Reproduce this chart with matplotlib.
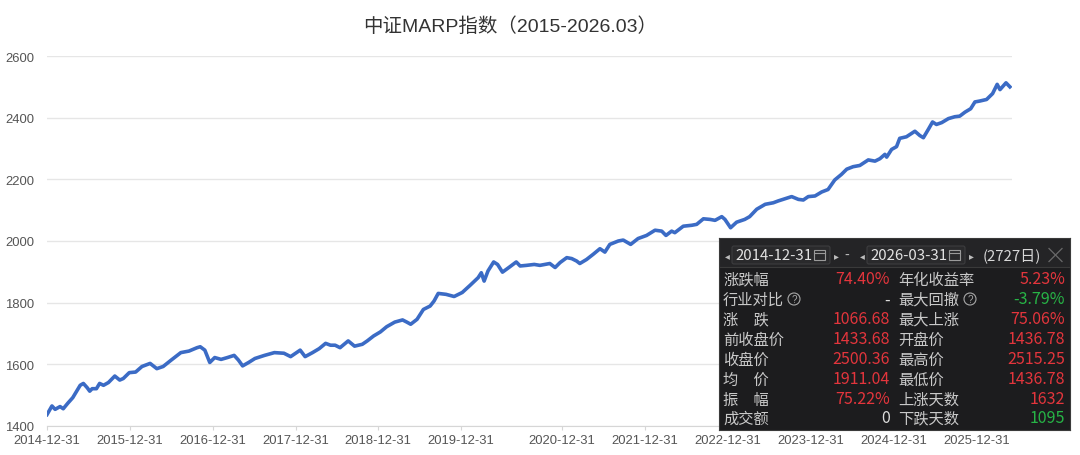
import matplotlib
matplotlib.use('Agg')
import matplotlib.pyplot as plt
from matplotlib.patches import Rectangle, FancyBboxPatch, Circle

# ---------------- data ----------------
title = "中证MARP指数（2015-2026.03）"

day_idx = [0, 14, 23, 37, 46, 59, 73, 94, 103, 114, 121, 128, 140, 149, 160, 174, 192, 206, 216, 233,
           251, 269, 292, 311, 329, 352, 379, 402, 425, 434, 447, 461, 475, 493, 511, 530, 542, 554, 571, 589,
           616, 644, 671, 690, 717, 731, 752, 771, 789, 803, 816, 830, 853, 871, 893, 907, 925, 944, 962, 985,
           1007, 1019, 1030, 1048, 1066, 1085, 1096, 1108, 1130, 1153, 1176, 1198, 1221, 1230, 1238, 1249, 1265,
           1276, 1290, 1308, 1329, 1340, 1358, 1380, 1396, 1424, 1439, 1453, 1472, 1486, 1500, 1509, 1528, 1547,
           1566, 1580, 1594, 1618, 1632, 1653, 1674, 1698, 1722, 1741, 1753, 1769, 1778, 1802, 1826, 1840, 1859,
           1878, 1892, 1911, 1920, 1936, 1953, 1976, 1990, 2010, 2034, 2057, 2071, 2090, 2109, 2128, 2142, 2156,
           2175, 2194, 2212, 2231, 2250, 2265, 2283, 2302, 2326, 2345, 2359, 2373, 2378, 2392, 2406, 2415, 2434,
           2458, 2472, 2482, 2496, 2508, 2519, 2534, 2553, 2571, 2585, 2600, 2616, 2628, 2642, 2661, 2678, 2691,
           2699, 2716, 2727]

index_values = [1437, 1465, 1454, 1463, 1456, 1474, 1492, 1532, 1538, 1524, 1513, 1521, 1521, 1538, 1532, 1541,
                1562, 1549, 1554, 1573, 1575, 1593, 1603, 1586, 1593, 1614, 1638, 1643, 1654, 1657, 1646, 1606,
                1622, 1616, 1622, 1629, 1614, 1595, 1606, 1619, 1629, 1638, 1636, 1625, 1646, 1625, 1638, 1651,
                1668, 1662, 1662, 1654, 1676, 1659, 1665, 1676, 1692, 1705, 1722, 1737, 1744, 1737, 1730, 1746,
                1778, 1789, 1805, 1830, 1827, 1820, 1833, 1856, 1881, 1897, 1870, 1903, 1932, 1924, 1899, 1914,
                1932, 1919, 1921, 1924, 1921, 1927, 1914, 1930, 1946, 1943, 1935, 1927, 1940, 1957, 1975, 1964,
                1989, 2000, 2003, 1989, 2008, 2018, 2035, 2032, 2018, 2032, 2027, 2048, 2051, 2054, 2072, 2070,
                2067, 2079, 2070, 2043, 2061, 2070, 2079, 2103, 2119, 2124, 2130, 2137, 2144, 2135, 2133, 2144,
                2146, 2159, 2167, 2198, 2216, 2233, 2241, 2245, 2263, 2259, 2267, 2281, 2272, 2297, 2306, 2333,
                2338, 2356, 2342, 2335, 2362, 2386, 2378, 2384, 2397, 2403, 2405, 2418, 2429, 2451, 2454, 2459,
                2478, 2508, 2491, 2513, 2500]

tick_idx = [0, 235, 470, 705, 937, 1172, 1458, 1693, 1928, 2164, 2399, 2634]
tick_labels = ['2014-12-31', '2015-12-31', '2016-12-31', '2017-12-31', '2018-12-31', '2019-12-31',
               '2020-12-31', '2021-12-31', '2022-12-31', '2023-12-31', '2024-12-31', '2025-12-31']
y_ticks = [1400, 1600, 1800, 2000, 2200, 2400, 2600]

start_date = '2014-12-31'
end_date = '2026-03-31'
days_text = '(2727日)'
left_labels = ['涨跌幅', '行业对比', '涨　跌', '前收盘价', '收盘价', '均　价', '振　幅', '成交额']
left_values = ['74.40%', '-', '1066.68', '1433.68', '2500.36', '1911.04', '75.22%', '0']
right_labels = ['年化收益率', '最大回撤', '最大上涨', '开盘价', '最高价', '最低价', '上涨天数', '下跌天数']
right_values = ['5.23%', '-3.79%', '75.06%', '1436.78', '2515.25', '1436.78', '1632', '1095']

# ---------------- styles ----------------
RED = '#e3353c'
GREEN = '#27b446'
NEU = '#dcdcdc'
LBL = '#c9c9c9'
left_colors = [RED, NEU, RED, RED, RED, RED, RED, NEU]
right_colors = [RED, GREEN, RED, RED, RED, RED, RED, GREEN]
help_rows_left = [1]
help_rows_right = [1]

LAT = ['Liberation Sans', 'Noto Sans CJK SC', 'DejaVu Sans']
CJK = ['Noto Sans CJK SC', 'DejaVu Sans']

W, H = 1080, 456
fig = plt.figure(figsize=(W / 100, H / 100), dpi=100)
fig.patch.set_facecolor('white')

ax = fig.add_axes([47 / W, 29 / H, (1012 - 47) / W, 370 / H])
ax.plot(day_idx, index_values, color='#3b6bc5', lw=2.6, solid_joinstyle='round', zorder=3)
ax.set_xlim(0, 2733)
ax.set_ylim(1400, 2600)
ax.set_yticks(y_ticks)
ax.set_xticks(tick_idx)
ax.set_xticklabels(tick_labels, family=LAT, fontsize=9.4, color='#555555')
ax.set_yticklabels([str(v) for v in y_ticks], family=LAT, fontsize=9.4, color='#555555')
ax.grid(axis='y', color='#e6e6e6', lw=1.0)
ax.set_axisbelow(True)
for s in ['top', 'right', 'left']:
    ax.spines[s].set_visible(False)
ax.spines['bottom'].set_color('#d6d6d6')
ax.tick_params(axis='y', length=0, pad=9)
ax.tick_params(axis='x', length=3, color='#d6d6d6', pad=3)

fig.text(510 / W, 1 - 27 / H, title, ha='center', va='center', fontsize=14,
         color='#333333', family=LAT)

# ---------------- overlay statistics box ----------------
bx0, bx1, by0, by1 = 719, 1070, 239, 431
bw, bh = bx1 - bx0, by1 - by0
bax = fig.add_axes([bx0 / W, (H - by1) / H, bw / W, bh / H], zorder=5)
bax.set_xlim(0, bw)
bax.set_ylim(bh, 0)
bax.set_xticks([])
bax.set_yticks([])
bax.set_facecolor('#1c1c1e')
for s in bax.spines.values():
    s.set_color('#3a3a3a')

bax.add_patch(Rectangle((0, 0), bw, 29, fc='#242426', ec='none'))
bax.plot([0, bw], [29, 29], color='#3a3a3a', lw=0.8)

hy = 17
bax.add_patch(FancyBboxPatch((13, 8), 98, 18, boxstyle='round,pad=0,rounding_size=2',
                             fc='#2a2a2c', ec='#3d3d3f', lw=0.8))
bax.add_patch(FancyBboxPatch((148, 8), 98, 18, boxstyle='round,pad=0,rounding_size=2',
                             fc='#2a2a2c', ec='#3d3d3f', lw=0.8))
bax.text(8, hy, '◂', color='#bdbdbd', fontsize=7, ha='center', va='center', family=CJK)
bax.text(16, hy, start_date, color='#e2e2e2', fontsize=10.8, ha='left', va='center', family=CJK)
bax.text(117, hy, '▸', color='#bdbdbd', fontsize=7, ha='center', va='center', family=CJK)
bax.text(128, hy, '-', color='#bdbdbd', fontsize=10, ha='center', va='center', family=CJK)
bax.text(143, hy, '◂', color='#bdbdbd', fontsize=7, ha='center', va='center', family=CJK)
bax.text(151, hy, end_date, color='#e2e2e2', fontsize=10.8, ha='left', va='center', family=CJK)
bax.text(252, hy, '▸', color='#bdbdbd', fontsize=7, ha='center', va='center', family=CJK)
bax.text(264, hy, days_text, color='#d8d8d8', fontsize=10.8, ha='left', va='center', family=CJK)
for cx in (95, 230):
    bax.add_patch(Rectangle((cx, 11.5), 11, 10, fc='none', ec='#9a9a9a', lw=0.8))
    bax.plot([cx, cx + 11], [14.5, 14.5], color='#9a9a9a', lw=0.8)
bax.plot([330, 343], [10.5, 23.5], color='#6a6a6a', lw=0.9)
bax.plot([330, 343], [23.5, 10.5], color='#6a6a6a', lw=0.9)

row_y = [41, 61, 81, 101, 121, 141, 161, 180]
for i, y in enumerate(row_y):
    bax.text(4, y, left_labels[i], color=LBL, fontsize=11, ha='left', va='center', family=CJK)
    bax.text(171, y, left_values[i], color=left_colors[i], fontsize=11.5, ha='right', va='center', family=CJK)
    bax.text(179, y, right_labels[i], color=LBL, fontsize=11, ha='left', va='center', family=CJK)
    bax.text(346, y, right_values[i], color=right_colors[i], fontsize=11.5, ha='right', va='center', family=CJK)

for r in help_rows_left:
    bax.add_patch(Circle((75, row_y[r]), 6, fc='none', ec='#a8a8a8', lw=0.8))
    bax.text(75, row_y[r] + 0.5, '?', color='#a8a8a8', fontsize=7, ha='center', va='center', family=LAT)
for r in help_rows_right:
    bax.add_patch(Circle((251, row_y[r]), 6, fc='none', ec='#a8a8a8', lw=0.8))
    bax.text(251, row_y[r] + 0.5, '?', color='#a8a8a8', fontsize=7, ha='center', va='center', family=LAT)

fig.savefig('out.png', dpi=100, facecolor='white')
